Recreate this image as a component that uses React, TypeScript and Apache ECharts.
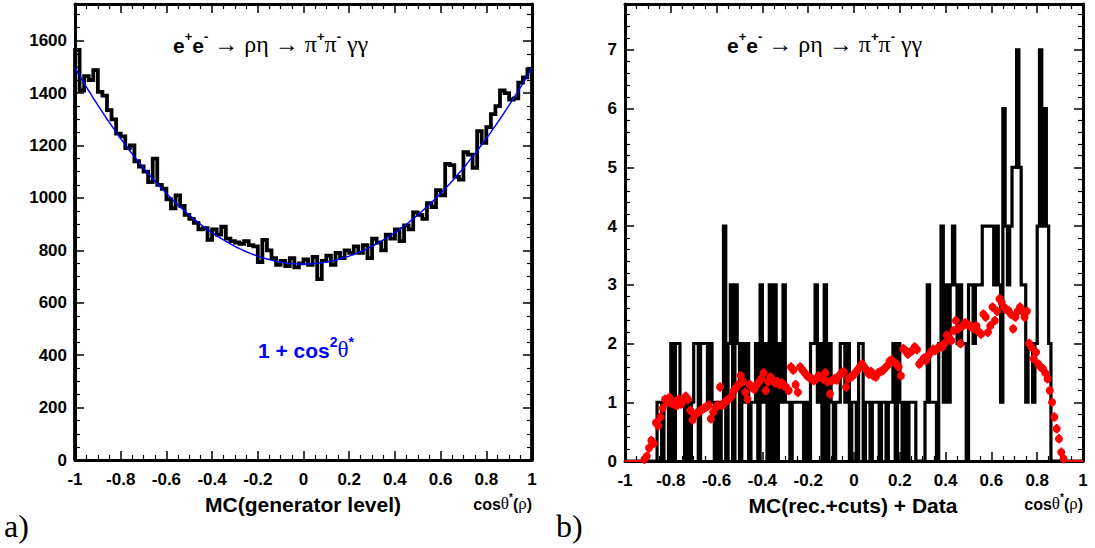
import React, { useEffect, useRef } from "react";
import * as echarts from "echarts";

// ---------- DATA ----------
// Left panel: MC generator level, 100 bins on [-1, 1]
const leftCounts = [
  1565, 1410, 1465, 1450, 1488, 1405, 1390, 1335, 1300, 1245,
  1235, 1190, 1200, 1140, 1120, 1100, 1060, 1150, 1050, 1035,
  995, 960, 1010, 970, 935, 920, 905, 880, 885, 840,
  880, 860, 890, 845, 835, 830, 825, 835, 820, 815,
  755, 840, 800, 770, 745, 760, 740, 770, 735, 750,
  765, 745, 775, 690, 760, 780, 745, 790, 770, 800,
  790, 815, 790, 820, 770, 845, 830, 800, 860, 845,
  880, 835, 895, 880, 945, 935, 920, 980, 965, 1030,
  1010, 1130, 1125, 1080, 1070, 1175, 1165, 1115, 1255, 1210,
  1270, 1320, 1350, 1410, 1400, 1375, 1380, 1440, 1460, 1490,
];
// fitted normalisation of 1 + cos^2(theta*)
const fitNorm = 748;

// Right panel: black histogram, 200 bins on [-1, 1]
const rightCounts = [
  0, 0, 0, 0, 0, 0, 0, 0, 0, 0,
  0, 0, 0, 0, 1, 1, 0, 1, 1, 0,
  2, 0, 2, 2, 1, 1, 0, 1, 0, 1,
  2, 2, 0, 2, 2, 2, 1, 2, 1, 0,
  1, 0, 1, 4, 0, 2, 3, 0, 3, 2,
  0, 2, 1, 2, 0, 1, 1, 2, 0, 3,
  1, 2, 0, 3, 0, 3, 0, 2, 1, 3,
  1, 1, 0, 1, 1, 1, 1, 1, 0, 1,
  0, 2, 2, 3, 1, 2, 0, 3, 0, 2,
  1, 0, 1, 1, 2, 2, 1, 2, 0, 1,
  1, 0, 2, 2, 0, 1, 1, 0, 1, 1,
  1, 0, 1, 1, 0, 1, 1, 2, 0, 2,
  1, 0, 1, 0, 1, 1, 1, 0, 0, 0,
  0, 1, 3, 1, 1, 1, 0, 2, 4, 1,
  3, 1, 3, 4, 3, 2, 3, 2, 2, 0,
  3, 3, 2, 3, 3, 3, 4, 4, 4, 4,
  4, 3, 4, 3, 1, 6, 4, 3, 4, 5,
  5, 7, 5, 3, 3, 1, 2, 2, 1, 2,
  4, 7, 4, 6, 4, 2, 0, 0, 0, 0,
  0, 0, 0, 0, 0, 0, 0, 0, 0, 0,
];

// Right panel: red points, 200 bins on [-1, 1]
const redValues = [
  0, 0, 0, 0, 0, 0, 0, 0, 0.03, 0.08,
  0.22, 0.35, 0.3, 0.65, 0.6, 0.75, 0.9, 1.05, 1.0, 1.08,
  0.98, 1.0, 0.94, 1.05, 0.97, 1.03, 1.1, 1.05, 0.86, 0.7,
  0.78, 0.82, 0.85, 0.87, 0.9, 0.92, 0.95, 0.72, 0.83, 0.9,
  0.95, 1.26, 0.95, 1.0, 1.03, 1.06, 1.1, 1.2, 1.25, 1.3,
  1.45, 1.35, 1.17, 1.05, 1.3, 1.25, 1.22, 1.3, 1.35, 1.4,
  1.5, 1.2, 1.35, 1.43, 1.38, 1.33, 1.35, 1.3, 1.33, 1.28,
  1.25, 1.2, 1.6, 1.55, 1.3, 1.17, 1.6, 1.55, 1.5, 1.45,
  1.42, 1.4, 1.37, 1.4, 1.45, 1.43, 1.4, 1.5, 1.35, 1.14,
  1.37, 1.4, 1.38, 1.45, 1.5, 1.52, 1.26, 1.4, 1.43, 1.45,
  1.5, 1.55, 1.6, 1.65, 1.6, 1.55, 1.48, 1.52, 1.45, 1.43,
  1.5, 1.52, 1.54, 1.58, 1.62, 1.7, 1.72, 1.68, 1.65, 1.6,
  1.45, 1.91, 1.88, 1.82, 1.85, 1.88, 1.94, 1.9, 1.65, 1.7,
  1.75, 1.71, 1.8, 1.85, 1.9, 1.88, 1.92, 1.95, 1.94, 2.0,
  2.14, 2.1, 2.05, 2.22, 2.39, 2.25, 2.0, 2.3, 2.35, 2.33,
  2.3, 2.28, 2.25, 2.3, 2.2, 2.16, 2.5, 2.45, 2.19, 2.3,
  2.62, 2.39, 2.55, 2.76, 2.7, 2.62, 2.58, 2.56, 2.5, 2.25,
  2.45, 2.55, 2.62, 2.55, 2.45, 2.55, 2.0, 1.94, 1.74, 1.85,
  1.65, 1.6, 1.57, 1.5, 1.4, 1.2, 1.0, 0.75, 0.55, 0.38,
  0.15, 0.04, 0, 0, 0, 0, 0, 0, 0, 0,
];
const redError = 0.08;

const xMin = -1;
const xMax = 1;
const leftYMax = 1740;
const rightYMax = 7.78;

// ---------- HELPERS ----------
function stepPoints(counts: number[], lo: number, hi: number) {
  const w = (hi - lo) / counts.length;
  const pts: (number | null)[][] = [[lo, 0]];
  counts.forEach((c, i) => {
    pts.push([lo + i * w, c]);
    pts.push([lo + (i + 1) * w, c]);
  });
  pts.push([hi, 0]);
  return pts;
}

function fitCurve(norm: number, lo: number, hi: number, n: number) {
  const pts: number[][] = [];
  for (let i = 0; i <= n; i++) {
    const x = lo + ((hi - lo) * i) / n;
    pts.push([x, norm * (1 + x * x)]);
  }
  return pts;
}

const SANS = "'Liberation Sans', Arial, Helvetica, sans-serif";
const SERIF = "'Liberation Serif', 'Times New Roman', serif";

function xLabel(v: number) {
  return String(Number(v.toFixed(1)));
}
function yLabel(v: number) {
  return String(Math.round(v));
}

function makeXAxes(gridIndex: number) {
  const common = {
    type: "value" as const,
    gridIndex,
    min: xMin,
    max: xMax,
    interval: 0.2,
    splitLine: { show: false },
    axisLine: { show: true, onZero: false, lineStyle: { color: "#000", width: 3 } },
    axisTick: { show: true, inside: true, length: 9, lineStyle: { color: "#000", width: 1.5 } },
    minorTick: { show: true, splitNumber: 4, length: 5, lineStyle: { color: "#000", width: 1.2 } },
  };
  return [
    {
      ...common,
      position: "bottom" as const,
      axisLabel: {
        show: true,
        formatter: xLabel,
        fontFamily: SANS,
        fontWeight: "bold" as const,
        fontSize: 17,
        color: "#000",
        margin: 11,
      },
    },
    { ...common, position: "top" as const, axisLabel: { show: false } },
  ];
}

function makeYAxes(gridIndex: number, max: number, interval: number, minorSplit: number) {
  const common = {
    type: "value" as const,
    gridIndex,
    min: 0,
    max,
    interval,
    splitLine: { show: false },
    axisLine: { show: true, onZero: false, lineStyle: { color: "#000", width: 3 } },
    axisTick: { show: true, inside: true, length: 9, lineStyle: { color: "#000", width: 1.5 } },
    minorTick: { show: true, splitNumber: minorSplit, length: 5, lineStyle: { color: "#000", width: 1.2 } },
  };
  return [
    {
      ...common,
      position: "left" as const,
      axisLabel: {
        show: true,
        showMaxLabel: false,
        formatter: yLabel,
        fontFamily: SANS,
        fontWeight: "bold" as const,
        fontSize: 17,
        color: "#000",
        margin: 8,
      },
    },
    { ...common, position: "right" as const, axisLabel: { show: false } },
  ];
}

function reactionTitle(x: number) {
  return {
    type: "text",
    x,
    y: 43,
    style: {
      text: "{b|e}{sp|+}{b|e}{sm|-}{s| → ρη → π}{sp|+}{s|π}{sm|-}{s| γγ}",
      verticalAlign: "middle",
      rich: {
        b: { fontFamily: SANS, fontWeight: "bold", fontSize: 21, fill: "#000", lineHeight: 26, verticalAlign: "bottom" },
        s: { fontFamily: SERIF, fontSize: 24, fill: "#000", lineHeight: 26, verticalAlign: "bottom" },
        sp: { fontFamily: SANS, fontWeight: "bold", fontSize: 13, fill: "#000", lineHeight: 26, verticalAlign: "top" },
        sm: { fontFamily: SANS, fontWeight: "bold", fontSize: 13, fill: "#000", lineHeight: 26, verticalAlign: "top" },
      },
    },
  };
}

function cosLabel(x: number) {
  return {
    type: "text",
    x,
    y: 502,
    style: {
      text: "{c|cos}{t|θ}{sp|*}{c|(}{t|ρ}{c|)}",
      align: "right",
      verticalAlign: "middle",
      rich: {
        c: { fontFamily: SANS, fontWeight: "bold", fontSize: 16, fill: "#000", lineHeight: 20, verticalAlign: "bottom" },
        t: { fontFamily: SERIF, fontSize: 17, fill: "#000", lineHeight: 20, verticalAlign: "bottom" },
        sp: { fontFamily: SANS, fontWeight: "bold", fontSize: 10, fill: "#000", lineHeight: 20, verticalAlign: "top" },
      },
    },
  };
}

export default function App() {
  const ref = useRef<HTMLDivElement>(null);

  useEffect(() => {
    if (!ref.current) return;
    const chart = echarts.init(ref.current, null, { renderer: "svg" });

    const leftStep = stepPoints(leftCounts, xMin, xMax);
    const rightStep = stepPoints(rightCounts, xMin, xMax);
    const fit = fitCurve(fitNorm, xMin, xMax, 200);

    const rw = (xMax - xMin) / redValues.length;
    const redPts: number[][] = [];
    const redZero: (number | null)[][] = [];
    redValues.forEach((v, i) => {
      const c = xMin + (i + 0.5) * rw;
      if (v > 0) {
        redPts.push([c, v]);
        redZero.push([null, null]);
      } else {
        redZero.push([xMin + i * rw, 0]);
        redZero.push([xMin + (i + 1) * rw, 0]);
      }
    });

    const option: any = {
      animation: false,
      backgroundColor: "#fff",
      grid: [
        { left: 75, top: 4, width: 457, height: 456 },
        { left: 625, top: 4, width: 458, height: 457 },
      ],
      xAxis: [...makeXAxes(0), ...makeXAxes(1)],
      yAxis: [...makeYAxes(0, leftYMax, 200, 4), ...makeYAxes(1, rightYMax, 1, 5)],
      series: [
        {
          type: "line",
          xAxisIndex: 0,
          yAxisIndex: 0,
          data: leftStep,
          showSymbol: false,
          symbol: "none",
          lineStyle: { color: "#000", width: 3.8, join: "miter" },
          z: 3,
        },
        {
          type: "line",
          xAxisIndex: 0,
          yAxisIndex: 0,
          data: fit,
          showSymbol: false,
          symbol: "none",
          smooth: false,
          lineStyle: { color: "#0000ff", width: 1.5 },
          z: 4,
        },
        {
          type: "line",
          xAxisIndex: 2,
          yAxisIndex: 2,
          data: rightStep,
          showSymbol: false,
          symbol: "none",
          lineStyle: { color: "#000", width: 3.2, join: "miter" },
          z: 3,
        },
        {
          type: "custom",
          xAxisIndex: 2,
          yAxisIndex: 2,
          data: redPts,
          renderItem: (params: any, api: any) => {
            const x = api.value(0);
            const y = api.value(1);
            const p1 = api.coord([x, y - redError]);
            const p2 = api.coord([x, y + redError]);
            const pc = api.coord([x, y]);
            return {
              type: "group",
              children: [
                {
                  type: "line",
                  shape: { x1: p1[0], y1: p1[1], x2: p2[0], y2: p2[1] },
                  style: { stroke: "#ff0000", lineWidth: 2 },
                },
                {
                  type: "circle",
                  shape: { cx: pc[0], cy: pc[1], r: 4 },
                  style: { fill: "#ff0000" },
                },
              ],
            };
          },
          z: 5,
        },
        {
          type: "line",
          xAxisIndex: 2,
          yAxisIndex: 2,
          data: redZero,
          connectNulls: false,
          showSymbol: false,
          symbol: "none",
          lineStyle: { color: "#ff0000", width: 2 },
          z: 7,
        },
      ],
      graphic: [
        reactionTitle(173),
        reactionTitle(727),
        {
          type: "text",
          x: 258,
          y: 348,
          style: {
            text: "{b|1 + cos}{sp|2}{t|θ}{sp|*}",
            verticalAlign: "middle",
            rich: {
              b: { fontFamily: SANS, fontWeight: "bold", fontSize: 21, fill: "#0000ff", lineHeight: 26, verticalAlign: "bottom" },
              t: { fontFamily: SERIF, fontSize: 23, fill: "#0000ff", lineHeight: 26, verticalAlign: "bottom" },
              sp: { fontFamily: SANS, fontWeight: "bold", fontSize: 14, fill: "#0000ff", lineHeight: 26, verticalAlign: "top" },
            },
          },
        },
        {
          type: "text",
          x: 303,
          y: 504,
          style: {
            text: "MC(generator level)",
            align: "center",
            verticalAlign: "middle",
            fontFamily: SANS,
            fontWeight: "bold",
            fontSize: 21,
            fill: "#000",
          },
        },
        {
          type: "text",
          x: 853,
          y: 505,
          style: {
            text: "MC(rec.+cuts) + Data",
            align: "center",
            verticalAlign: "middle",
            fontFamily: SANS,
            fontWeight: "bold",
            fontSize: 21,
            fill: "#000",
          },
        },
        cosLabel(532),
        cosLabel(1083),
        {
          type: "text",
          x: 4,
          y: 526,
          style: { text: "a)", verticalAlign: "middle", fontFamily: SERIF, fontSize: 32, fill: "#000" },
        },
        {
          type: "text",
          x: 556,
          y: 526,
          style: { text: "b)", verticalAlign: "middle", fontFamily: SERIF, fontSize: 32, fill: "#000" },
        },
      ],
    };

    chart.setOption(option);
    return () => chart.dispose();
  }, []);

  return (
    <div
      ref={ref}
      style={{ position: "fixed", left: 0, top: 0, width: 1095, height: 548, background: "#fff" }}
    />
  );
}
